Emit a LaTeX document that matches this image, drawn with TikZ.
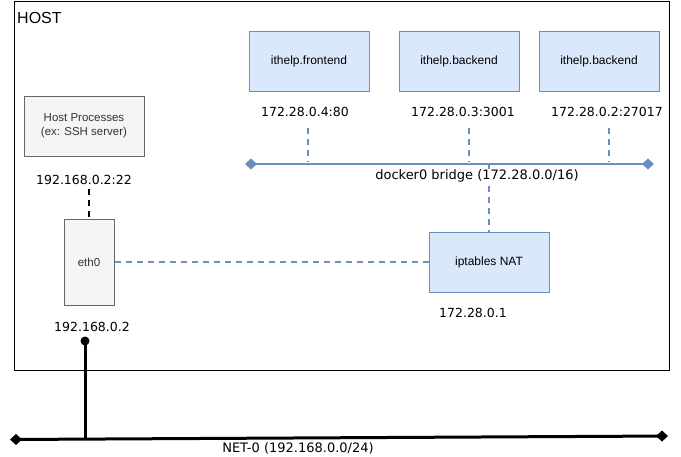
\documentclass[tikz,border=0pt]{standalone}
\usepackage{fontspec}
\setmainfont{Liberation Sans}
\newfontfamily\lblfont{DejaVu Sans}
\usetikzlibrary{arrows.meta}
\definecolor{bluefill}{HTML}{DAE8FC}
\definecolor{blueline}{HTML}{6C8EBF}
\definecolor{grayfill}{HTML}{F5F5F5}
\definecolor{grayline}{HTML}{666666}
\definecolor{graytext}{HTML}{333333}
\begin{document}
\begin{tikzpicture}[x=1pt,y=-1pt,
  container/.style={draw=blueline, fill=bluefill, line width=1pt, minimum width=120pt, minimum height=60pt, inner sep=0pt, font=\fontsize{12}{14}\selectfont},
  hostbox/.style={draw=grayline, fill=grayfill, line width=1pt, inner sep=0pt, text=graytext, align=center, font=\fontsize{11.5}{14}\selectfont},
  iplabel/.style={font=\lblfont\fontsize{12.5}{15}\selectfont, inner sep=1pt},
  netlabel/.style={font=\lblfont\fontsize{13}{15}\selectfont, inner sep=1pt},
  bluedash/.style={draw=blueline, line width=2pt, dash pattern=on 6pt off 5pt},
  blackdash/.style={draw=black, line width=2pt, dash pattern=on 6pt off 5pt},
  bluebus/.style={draw=blueline, line width=2.5pt, {Diamond[length=12pt,width=11pt,fill=blueline]}-{Diamond[length=12pt,width=11pt,fill=blueline]}},
  blackbus/.style={draw=black, line width=3pt, {Diamond[length=12pt,width=11pt]}-{Diamond[length=12pt,width=11pt]}}
]
\useasboundingbox (0,0) rectangle (681,456);
\fill[white] (0,0) rectangle (681,456);

% HOST frame
\node[draw, line width=1pt, minimum width=655pt, minimum height=369pt, anchor=north west, inner sep=0pt] (host) at (14,1) {};
\node[anchor=west, inner sep=0pt, font=\fontsize{16}{18}\selectfont] (hostlbl) at (17,17.5) {HOST};

% containers
\node[container] (fe) at (309,61) {ithelp.frontend};
\node[container] (be1) at (459,61) {ithelp.backend};
\node[container] (be2) at (599,61) {ithelp.backend};
\node[iplabel] (lfe) at (305,112) {172.28.0.4:80};
\node[iplabel] (lbe1) at (463,112) {172.28.0.3:3001};
\node[iplabel] (lbe2) at (607,112) {172.28.0.2:27017};

% docker0 bridge
\coordinate (bl) at (245,164);
\coordinate (br) at (654,164);
\coordinate (b1) at (308,164);
\coordinate (b2) at (469,164);
\coordinate (b3) at (609,164);
\coordinate (b4) at (489,164);
\draw[bluedash, shorten <=10pt, shorten >=2pt] (b1 |- lfe.south) -- (b1);
\draw[bluedash, shorten <=10pt, shorten >=2pt] (b2 |- lbe1.south) -- (b2);
\draw[bluedash, shorten <=10pt, shorten >=2pt] (b3 |- lbe2.south) -- (b3);

% iptables NAT
\node[container] (nat) at (489,262) {iptables NAT};
\node[iplabel] (lnat) at (473,313) {172.28.0.1};
\draw[bluedash] (b4) -- (nat.north);
\draw[bluebus] (bl) -- (br);
\node[netlabel, fill=white] (bridge) at (477,176) {docker0 bridge (172.28.0.0/16)};

% host processes and eth0
\node[hostbox, minimum width=120pt, minimum height=60pt] (hp) at (84,126) {Host Processes\\(ex: SSH server)};
\node[iplabel] (lhp) at (84,180) {192.168.0.2:22};
\node[hostbox, minimum width=50pt, minimum height=86pt] (eth) at (89,262) {eth0};
\node[iplabel] (leth) at (92,327) {192.168.0.2};
\draw[blackdash, shorten <=3pt] (eth.north |- lhp.south) -- (eth.north);
\draw[bluedash] (eth.east) -- (nat.west);

% NET-0
\coordinate (netL) at (10,439.5);
\coordinate (netR) at (668,436);
\coordinate (nj) at (85,439);
\node[circle, fill=black, inner sep=0pt, minimum size=9pt] (dot) at (85,341) {};
\draw[line width=3pt] (dot.center) -- (nj);
\draw[blackbus] (netL) -- (netR);
\node[netlabel] (netlbl) at (298,448) {NET-0 (192.168.0.0/24)};
\end{tikzpicture}
\end{document}
